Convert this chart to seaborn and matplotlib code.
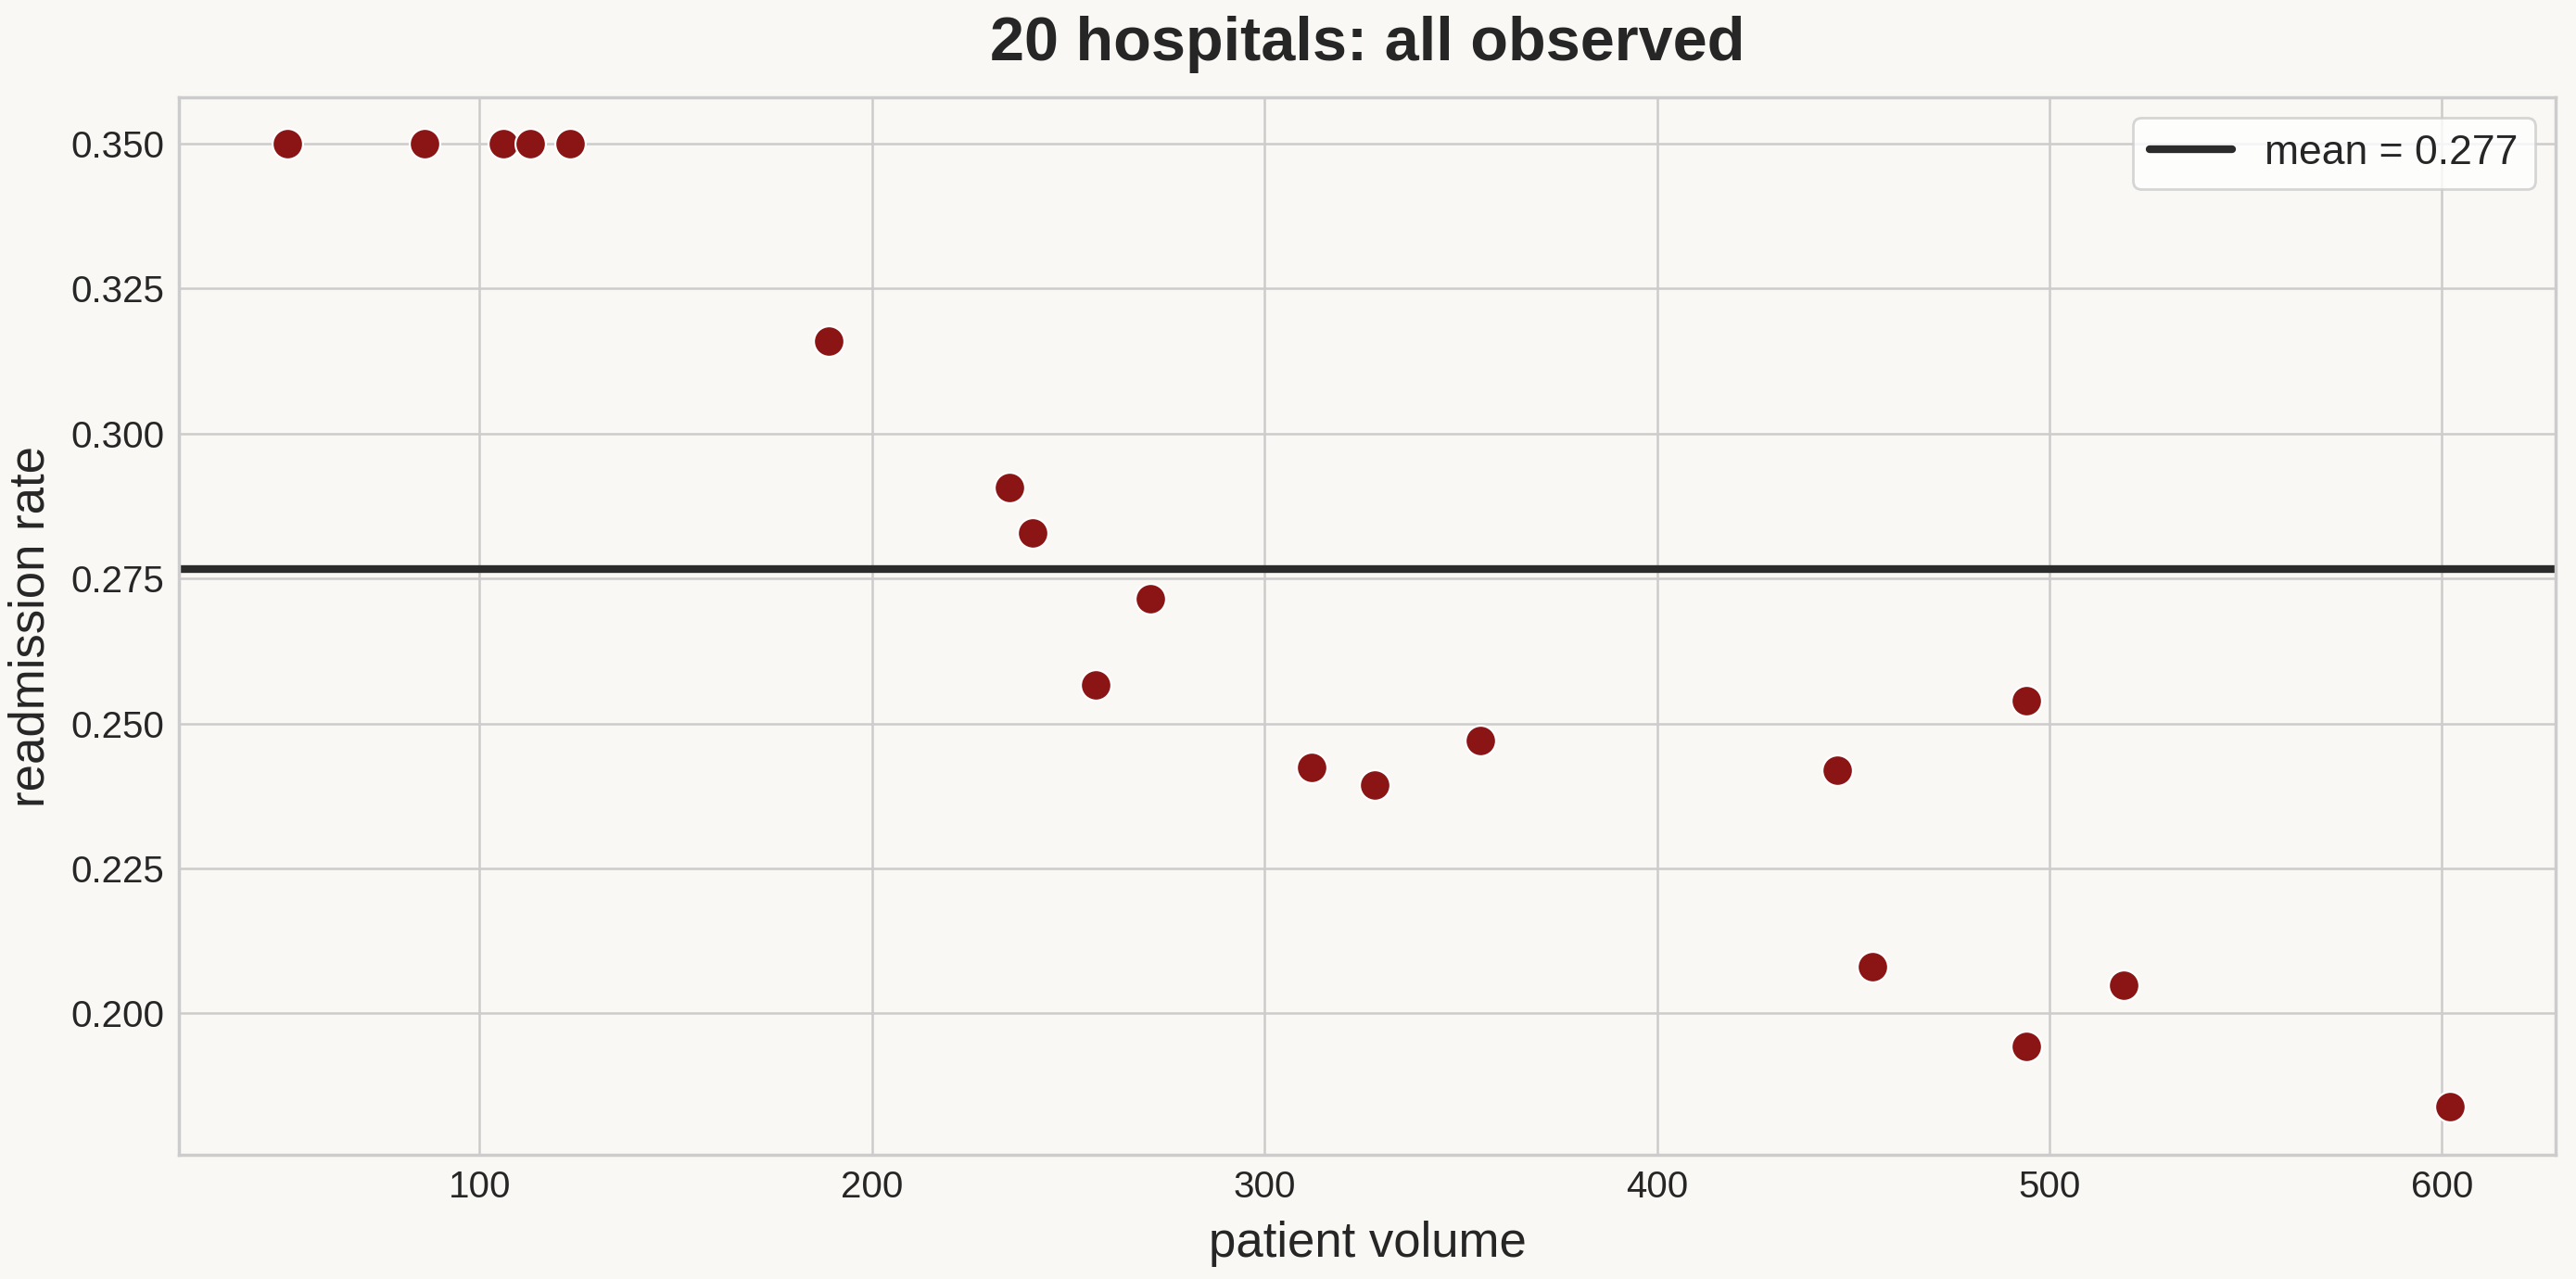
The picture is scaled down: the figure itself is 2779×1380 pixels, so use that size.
import numpy as np
import pandas as pd
import matplotlib
matplotlib.use("Agg")
import matplotlib.pyplot as plt
import seaborn as sns

# hospital data
volume = [51, 86, 106, 106, 113, 123, 189, 235, 241, 271, 257, 312, 328, 355,
          446, 455, 494, 494, 519, 602]
rate = [0.350, 0.350, 0.350, 0.350, 0.350, 0.350, 0.316, 0.2907, 0.2828, 0.2715,
        0.2567, 0.2425, 0.2394, 0.2471, 0.2420, 0.2080, 0.2539, 0.1943, 0.2048, 0.1839]

df = pd.DataFrame({"volume": volume, "rate": rate})
mean_rate = df["rate"].mean()

bg = "#f9f8f4"
sns.set_theme(style="whitegrid")
plt.rcParams["font.family"] = ["Liberation Sans", "DejaVu Sans"]
plt.rcParams["axes.facecolor"] = bg
plt.rcParams["figure.facecolor"] = bg

fig, ax = plt.subplots(figsize=(13.895, 6.9), dpi=200)
fig.subplots_adjust(left=0.0695, right=0.992, top=0.924, bottom=0.097)

sns.scatterplot(data=df, x="volume", y="rate", color="#8b1515", s=140,
                edgecolor="white", linewidth=0.8, ax=ax, zorder=3)
ax.axhline(mean_rate, color="#2b2b2b", lw=3, label=f"mean = {mean_rate:.3f}", zorder=2)

ax.set_xlim(23.4, 628.9)
ax.set_ylim(0.1756, 0.358)
ax.set_yticks([0.200, 0.225, 0.250, 0.275, 0.300, 0.325, 0.350])
ax.yaxis.set_major_formatter(matplotlib.ticker.FormatStrFormatter("%.3f"))
ax.tick_params(labelsize=14.5, colors="#262626", length=0, pad=5.7)

ax.set_xlabel("patient volume", fontsize=19, color="#262626", labelpad=6)
ax.set_ylabel("readmission rate", fontsize=19, color="#262626", labelpad=6.5)
ax.set_title("20 hospitals: all observed", fontsize=24, fontweight="bold",
             color="#262626", pad=14.5)

for sp in ax.spines.values():
    sp.set_color("#cccccc")
ax.grid(color="#cccccc", lw=0.9)

leg = ax.legend(loc="upper right", fontsize=16, frameon=True, handlelength=2.0)
leg.get_frame().set_facecolor("white")
leg.get_frame().set_edgecolor("#cccccc")

fig.savefig("out.png", dpi=200, facecolor=bg)
